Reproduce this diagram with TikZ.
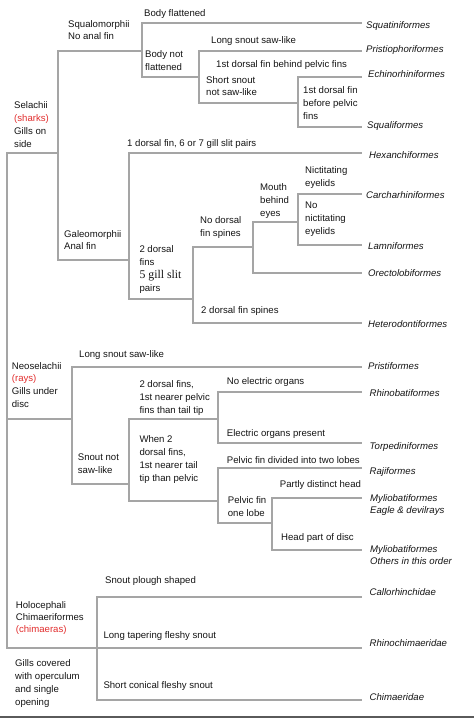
\documentclass[tikz,border=0pt]{standalone}
\usepackage{fontspec}
\setmainfont{Liberation Sans}
\newfontfamily\serifface{Liberation Serif}
\definecolor{linegray}{RGB}{165,165,165}
\definecolor{redtxt}{RGB}{225,45,45}
\definecolor{bottomline}{RGB}{90,90,90}
\definecolor{txtblack}{RGB}{20,20,20}
\tikzset{
  branch/.style={draw=linegray, line width=1.5pt, line join=miter},
  txt/.style={anchor=north west, yshift=5.6pt, inner sep=0pt, align=left,
    text=txtblack, font=\fontsize{9.6}{13}\selectfont},
  taxon/.style={txt, font=\fontsize{9.6}{12.5}\selectfont\itshape},
  redword/.style={}
}
\begin{document}
\begin{tikzpicture}[x=1pt,y=-1pt]
\useasboundingbox (0,0) rectangle (474,720);
% ---------- junction coordinates ----------
\coordinate (root-t) at (7,153);
\coordinate (root-b) at (7,648);
\coordinate (selachii) at (58,153);
\coordinate (neosel) at (72,419);
\coordinate (neosel-l) at (7,419);
\coordinate (A-t) at (58,51);
\coordinate (A-b) at (58,260);
\coordinate (B-t) at (142,23);
\coordinate (B-m) at (142,51);
\coordinate (B-b) at (142,77);
\coordinate (C-t) at (199,51);
\coordinate (C-m) at (199,77);
\coordinate (C-b) at (199,103);
\coordinate (D-t) at (298,77);
\coordinate (D-m) at (298,103);
\coordinate (D-b) at (298,127);
\coordinate (E-t) at (129,153);
\coordinate (E-m) at (129,260);
\coordinate (E-b) at (129,299);
\coordinate (F-t) at (193,247);
\coordinate (F-m) at (193,299);
\coordinate (F-b) at (193,323);
\coordinate (G-t) at (253,222);
\coordinate (G-m) at (253,247);
\coordinate (G-b) at (253,273);
\coordinate (H-t) at (298,194);
\coordinate (H-m) at (298,222);
\coordinate (H-b) at (298,245);
\coordinate (I-t) at (72,367);
\coordinate (I-b) at (72,484);
\coordinate (J-t) at (129,419);
\coordinate (J-m) at (129,484);
\coordinate (J-b) at (129,501);
\coordinate (K-t) at (218,392);
\coordinate (K-m) at (218,419);
\coordinate (K-b) at (218,443);
\coordinate (L-t) at (218,468);
\coordinate (L-m) at (218,501);
\coordinate (L-b) at (218,523);
\coordinate (M-t) at (272,498);
\coordinate (M-m) at (272,523);
\coordinate (M-b) at (272,550);
\coordinate (N-t) at (97,597);
\coordinate (N-b) at (97,700);
% leaf ends
\coordinate (e-squat) at (362,23);
\coordinate (e-pristio) at (362,51);
\coordinate (e-echino) at (362,77);
\coordinate (e-squali) at (362,127);
\coordinate (e-hexan) at (362,153);
\coordinate (e-carch) at (362,194);
\coordinate (e-lamn) at (362,245);
\coordinate (e-orecto) at (362,273);
\coordinate (e-hetero) at (362,323);
\coordinate (e-pristif) at (362,367);
\coordinate (e-rhinob) at (362,392);
\coordinate (e-torp) at (362,443);
\coordinate (e-raji) at (362,468);
\coordinate (e-myl1) at (362,498);
\coordinate (e-myl2) at (362,550);
\coordinate (e-callor) at (362,597);
\coordinate (e-rhinoc) at (362,648);
\coordinate (e-chim) at (362,700);
% ---------- branches ----------
\draw[branch] (selachii) -- (root-t) -- (root-b) -- (e-rhinoc);
\draw[branch] (neosel-l) -- (neosel);
\draw[branch] (B-m) -- (A-t) -- (A-b) -- (E-m);
\draw[branch] (e-squat) -- (B-t) -- (B-b) -- (C-m);
\draw[branch] (e-pristio) -- (C-t) -- (C-b) -- (D-m);
\draw[branch] (e-echino) -- (D-t) -- (D-b) -- (e-squali);
\draw[branch] (e-hexan) -- (E-t) -- (E-b) -- (F-m);
\draw[branch] (G-m) -- (F-t) -- (F-b) -- (e-hetero);
\draw[branch] (H-m) -- (G-t) -- (G-b) -- (e-orecto);
\draw[branch] (e-carch) -- (H-t) -- (H-b) -- (e-lamn);
\draw[branch] (e-pristif) -- (I-t) -- (I-b) -- (J-m);
\draw[branch] (K-m) -- (J-t) -- (J-b) -- (L-m);
\draw[branch] (e-rhinob) -- (K-t) -- (K-b) -- (e-torp);
\draw[branch] (e-raji) -- (L-t) -- (L-b) -- (M-m);
\draw[branch] (e-myl1) -- (M-t) -- (M-b) -- (e-myl2);
\draw[branch] (e-callor) -- (N-t) -- (N-b) -- (e-chim);
% bottom edge
\draw[line width=2pt, bottomline] (0,717) -- (474,717);
% ---------- texts ----------
\node[txt] (tSqualo) at (68,24) {\strut Squalomorphii\\[-1pt]No anal fin};
\node[txt] (tBodyFlat) at (144,12.5) {\strut Body flattened};
\node[txt] (tBodyNot) at (145,54) {\strut Body not\\flattened};
\node[txt] (tLongSaw) at (211,40) {\strut Long snout saw-like};
\node[txt] (tFirstBehind) at (216,63.3) {\strut 1st dorsal fin behind pelvic fins};
\node[txt] (tShort) at (206,79.3) {\strut Short snout\\[-0.5pt]not saw-like};
\node[txt] (tFirstBefore) at (303,89.5) {\strut 1st dorsal fin\\before pelvic\\fins};
\node[txt] (tSelachii) at (14,105) {\strut Selachii\\[-0.5pt]\textcolor{redtxt}{(sharks)}\\[0.5pt]Gills on\\side};
\node[txt] (tOneDorsal) at (127,142.7) {\strut 1 dorsal fin, 6 or 7 gill slit pairs};
\node[txt] (tNict) at (305,170) {\strut Nictitating\\eyelids};
\node[txt] (tMouth) at (260,186.7) {\strut Mouth\\behind\\eyes};
\node[txt] (tNoNict) at (305,205) {\strut No\\nictitating\\eyelids};
\node[txt] (tNoSpines) at (200,220) {\strut No dorsal\\fin spines};
\node[txt] (tGaleo) at (64,233.3) {\strut Galeomorphii\\[-1pt]Anal fin};
\node[txt] (tTwoDorsal) at (139.3,248.3) {\strut 2 dorsal\\fins\\{\serifface\fontsize{11.8}{13}\selectfont 5 gill slit}\\pairs};
\node[txt] (tTwoSpines) at (201,310) {\strut 2 dorsal fin spines};
\node[txt] (tLongSawR) at (79,353.3) {\strut Long snout saw-like};
\node[txt] (tNeosel) at (11.7,366) {\strut Neoselachii\\[-1pt]\textcolor{redtxt}{(rays)}\\Gills under\\disc};
\node[txt] (tTwoNearPelvic) at (139.3,383.3) {\strut 2 dorsal fins,\\1st nearer pelvic\\fins than tail tip};
\node[txt] (tNoElec) at (226.7,380.7) {\strut No electric organs};
\node[txt] (tElec) at (226.7,432.7) {\strut Electric organs present};
\node[txt] (tWhenTwo) at (139.3,438.3) {\strut When 2\\dorsal fins,\\1st nearer tail\\tip than pelvic};
\node[txt] (tSnoutNot) at (77.7,456.7) {\strut Snout not\\saw-like};
\node[txt] (tPelvicTwo) at (226.7,460) {\strut Pelvic fin divided into two lobes};
\node[txt] (tPartly) at (279.7,484) {\strut Partly distinct head};
\node[txt] (tPelvicOne) at (227.7,500) {\strut Pelvic fin\\[-0.5pt]one lobe};
\node[txt] (tHeadDisc) at (281,536.7) {\strut Head part of disc};
\node[txt] (tPlough) at (105,579.3) {\strut Snout plough shaped};
\node[txt] (tHolo) at (15.7,605) {\strut Holocephali\\[-1pt]Chimaeriformes\\[-1pt]\textcolor{redtxt}{(chimaeras)}};
\node[txt] (tLongTaper) at (103.3,634.3) {\strut Long tapering fleshy snout};
\node[txt] (tGillsCov) at (15,662.7) {\strut Gills covered\\with operculum\\and single\\opening};
\node[txt] (tShortCon) at (103.3,685) {\strut Short conical fleshy snout};
% ---------- taxa ----------
\node[taxon] (lSquat) at (366,25) {\strut Squatiniformes};
\node[taxon] (lPristio) at (366,49) {\strut Pristiophoriformes};
\node[taxon] (lEchino) at (368,74) {\strut Echinorhiniformes};
\node[taxon] (lSquali) at (367,124.7) {\strut Squaliformes};
\node[taxon] (lHexan) at (369,155) {\strut Hexanchiformes};
\node[taxon] (lCarch) at (366,195) {\strut Carcharhiniformes};
\node[taxon] (lLamn) at (368,246) {\strut Lamniformes};
\node[taxon] (lOrecto) at (368,273.5) {\strut Orectolobiformes};
\node[taxon] (lHetero) at (368,324) {\strut Heterodontiformes};
\node[taxon] (lPristif) at (368,366) {\strut Pristiformes};
\node[taxon] (lRhinob) at (369.5,393) {\strut Rhinobatiformes};
\node[taxon] (lTorp) at (369.5,446.5) {\strut Torpediniformes};
\node[taxon] (lRaji) at (369.5,471) {\strut Rajiformes};
\node[taxon] (lMyl1) at (370,498) {\strut Myliobatiformes\\Eagle \& devilrays};
\node[taxon] (lMyl2) at (370,549) {\strut Myliobatiformes\\Others in this order};
\node[taxon] (lCallor) at (369.5,592.5) {\strut Callorhinchidae};
\node[taxon] (lRhinoc) at (369.5,643) {\strut Rhinochimaeridae};
\node[taxon] (lChim) at (369.5,697) {\strut Chimaeridae};
\end{tikzpicture}
\end{document}
